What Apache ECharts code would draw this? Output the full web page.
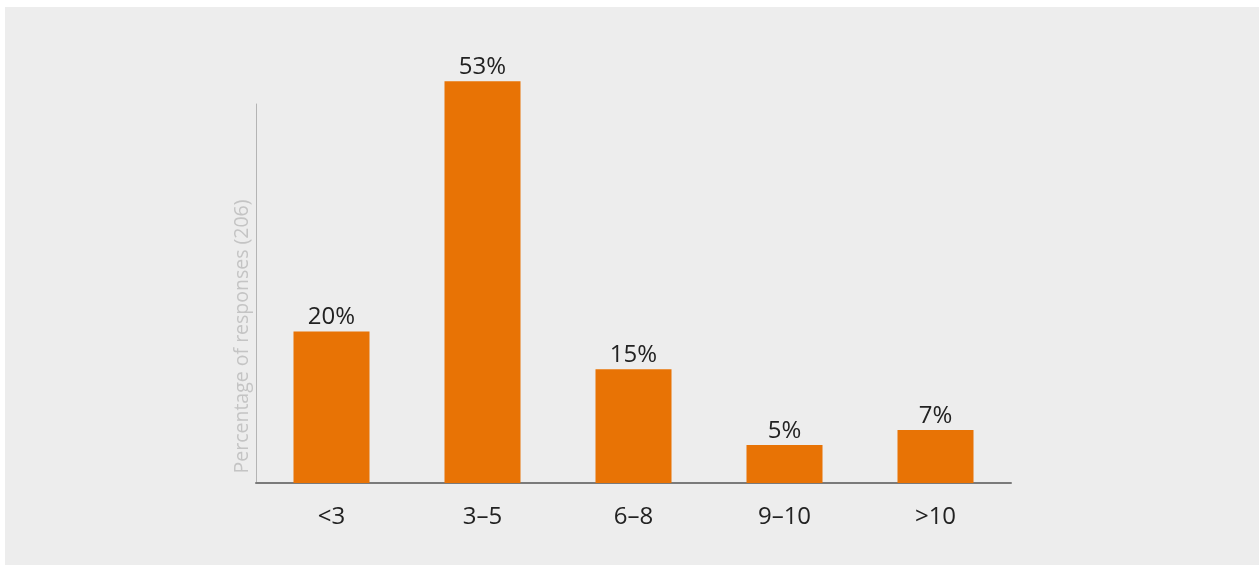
<!DOCTYPE html>
<html>
<head>
<meta charset="utf-8">
<script src="https://cdn.jsdelivr.net/npm/echarts@6/dist/echarts.min.js"></script>
<style>
  html, body { margin: 0; padding: 0; background: #ffffff; width: 1260px; height: 565px; overflow: hidden; }
  #chart { position: absolute; left: 5px; top: 7px; width: 1254px; height: 558px; }
</style>
</head>
<body>
<div id="chart"></div>
<script>
// Years of experience buckets and share of responses (%)
const categories = ['<3', '3–5', '6–8', '9–10', '>10'];
const shares = [20, 53, 15, 5, 7];
const axisTitle = 'Percentage of responses (206)';

const chart = echarts.init(document.getElementById('chart'), null, { renderer: 'canvas' });

chart.setOption({
  backgroundColor: '#ededed',
  animation: false,
  grid: { left: 251, right: 248, top: 97, bottom: 82 },
  xAxis: {
    type: 'category',
    data: categories,
    axisLine: { show: true, lineStyle: { color: '#7a7a7a', width: 2 } },
    axisTick: { show: false },
    axisLabel: {
      margin: 22,
      color: '#222222',
      fontFamily: 'Open Sans',
      fontSize: 24
    }
  },
  yAxis: {
    type: 'value',
    min: 0,
    max: 50,
    axisLine: { show: true, lineStyle: { color: '#b4b4b4', width: 1 } },
    axisTick: { show: false },
    axisLabel: { show: false },
    splitLine: { show: false },
    name: axisTitle,
    nameLocation: 'middle',
    nameRotate: 90,
    nameGap: 4,
    nameTextStyle: {
      color: '#c4c4c4',
      fontFamily: 'Open Sans',
      fontSize: 19.5,
      padding: [0, 86, 0, 0]
    }
  },
  series: [{
    type: 'bar',
    data: shares,
    barWidth: 76,
    clip: false,
    itemStyle: { color: '#e87305' },
    label: {
      show: true,
      position: 'top',
      distance: 2,
      color: '#222222',
      fontFamily: 'Open Sans',
      fontSize: 24,
      formatter: p => p.value + '%'
    }
  }]
});
</script>
</body>
</html>
